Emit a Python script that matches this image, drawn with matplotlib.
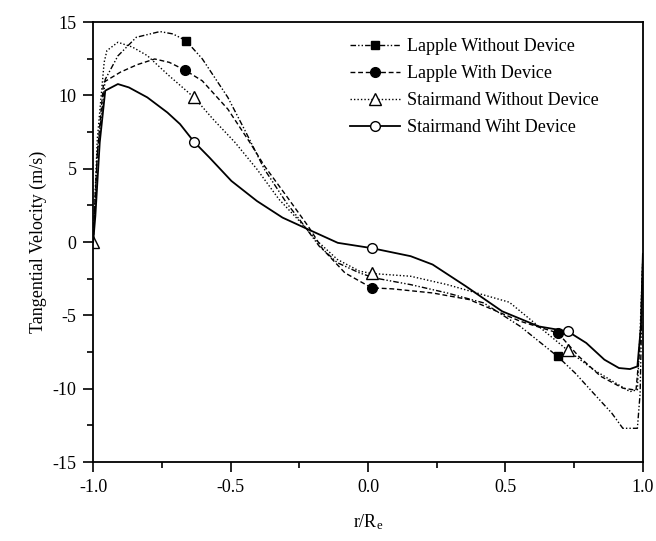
import numpy as np
import matplotlib
matplotlib.use("Agg")
import matplotlib.pyplot as plt

plt.rcParams['font.family'] = ['Liberation Serif', 'DejaVu Serif']
plt.rcParams['axes.unicode_minus'] = False
plt.rcParams['mathtext.default'] = 'regular'

# Lapple without device (dash-dot-dot, filled square)
x_lwo = [-1.0, -0.985, -0.956, -0.91, -0.843, -0.757, -0.71, -0.663, -0.603, -0.51, -0.444, -0.377, -0.297, -0.231, -0.178,
         -0.111, -0.031, 0.022, 0.155, 0.288, 0.421, 0.554, 0.69, 0.754, 0.82, 0.887, 0.927, 0.98, 0.99, 1.0]
y_lwo = [0, 6.0, 11.1, 12.7, 13.97, 14.36, 14.2, 13.75, 12.5, 9.87, 7.48, 4.97, 2.69, 1.09, -0.27,
         -1.41, -2.1, -2.44, -2.9, -3.47, -4.15, -5.75, -7.8, -8.94, -10.3, -11.67, -12.7, -12.7, -10.3, -1.0]
m_lwo = [7, 22]

# Lapple with device (dashed, filled circle)
x_lw = [-1.0, -0.985, -0.962, -0.9, -0.84, -0.776, -0.723, -0.667, -0.603, -0.51, -0.43, -0.377, -0.297, -0.218,
        -0.164, -0.084, 0.013, 0.089, 0.235, 0.368, 0.554, 0.691, 0.767, 0.847, 0.927, 0.975, 0.99, 1.0]
y_lw = [0, 6.0, 10.9, 11.6, 12.1, 12.49, 12.26, 11.74, 11.0, 9.07, 6.8, 5.2, 3.15, 1.09,
        -0.5, -2.1, -3.12, -3.19, -3.47, -3.92, -5.4, -6.2, -7.8, -9.16, -9.96, -10.1, -7.0, -1.0]
m_lw = [7, 16, 21]

# Stairmand without device (dotted, open triangle)
x_swo = [-1.0, -0.985, -0.96, -0.95, -0.91, -0.857, -0.803, -0.724, -0.633, -0.564, -0.484, -0.404, -0.324, -0.244, -0.191,
         -0.111, -0.031, 0.013, 0.155, 0.288, 0.42, 0.514, 0.621, 0.727, 0.82, 0.9, 0.953, 0.98, 0.99, 1.0]
y_swo = [0, 7.0, 12.26, 13.06, 13.63, 13.3, 12.72, 11.35, 9.87, 8.39, 6.8, 4.97, 2.92, 1.32, 0.18,
         -1.19, -1.98, -2.14, -2.33, -2.9, -3.6, -4.1, -5.75, -7.39, -8.7, -9.6, -10.2, -10.07, -6.0, -1.0]
m_swo = [0, 8, 17, 23]

# Stairmand with device (solid, open circle)
x_sw = [-1.0, -0.992, -0.976, -0.956, -0.91, -0.87, -0.803, -0.73, -0.684, -0.633, -0.577, -0.497, -0.404, -0.311, -0.218,
        -0.11, 0.013, 0.155, 0.235, 0.355, 0.488, 0.621, 0.727, 0.794, 0.86, 0.913, 0.953, 0.98, 0.993, 1.0]
y_sw = [0, 1.78, 6.8, 10.33, 10.78, 10.55, 9.87, 8.84, 8.05, 6.84, 5.77, 4.17, 2.8, 1.67, 0.87,
        -0.05, -0.41, -0.96, -1.53, -3.0, -4.72, -5.75, -6.09, -6.88, -8.02, -8.59, -8.66, -8.48, -5.74, -0.8]
m_sw = [9, 16, 22]

labels = ["Lapple Without Device", "Lapple With Device", "Stairmand Without Device", "Stairmand Wiht Device"]

fig = plt.figure(figsize=(6.56, 5.41), dpi=100)
ax = fig.add_axes([0.142, 0.146, 0.838, 0.813])

ax.plot(x_lwo, y_lwo, color='black', lw=1.0, ls=(0, (4, 1.5, 1, 1.5, 1, 1.5)),
        marker='s', ms=6, mfc='black', mec='black', markevery=m_lwo, label=labels[0])
ax.plot(x_lw, y_lw, color='black', lw=1.0, ls=(0, (3.5, 2)),
        marker='o', ms=7, mfc='black', mec='black', markevery=m_lw, label=labels[1])
ax.plot(x_swo, y_swo, color='black', lw=1.0, ls=(0, (1, 1.5)),
        marker='^', ms=8, mfc='white', mec='black', mew=1.0, markevery=m_swo, label=labels[2])
ax.plot(x_sw, y_sw, color='black', lw=1.3, ls='-',
        marker='o', ms=7, mfc='white', mec='black', mew=1.0, markevery=m_sw, label=labels[3])

ax.set_xlim(-1.0, 1.0)
ax.set_ylim(-15, 15)
ax.set_xticks(np.arange(-1.0, 1.01, 0.5))
ax.set_xticks(np.arange(-0.75, 1.0, 0.5), minor=True)
ax.set_yticks(np.arange(-15, 16, 5))
ax.set_yticks(np.arange(-12.5, 15, 5), minor=True)
ax.xaxis.set_major_formatter(matplotlib.ticker.FormatStrFormatter('%.1f'))
ax.tick_params(which='major', direction='out', length=7, width=1.2, labelsize=13, pad=5)
ax.tick_params(which='minor', direction='out', length=4, width=1.2)
for s in ax.spines.values():
    s.set_linewidth(1.3)

ax.set_xlabel(r"r/R$_e$", fontsize=13, labelpad=12)
ax.set_ylabel("Tangential Velocity (m/s)", fontsize=13, labelpad=4)

ax.legend(loc='upper left', bbox_to_anchor=(0.437, 1.0), frameon=False, fontsize=13,
          handlelength=2.8, handletextpad=0.4, labelspacing=0.55, numpoints=1)

fig.savefig("out.png", dpi=100)
